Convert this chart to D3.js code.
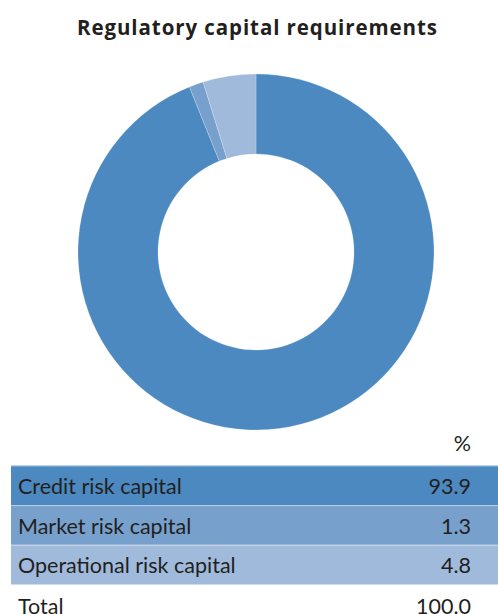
<!DOCTYPE html>
<html>
<head>
<meta charset="utf-8">
<script src="https://cdn.jsdelivr.net/npm/d3@7"></script>
<style>
  html, body { margin: 0; padding: 0; background: #fff; }
  svg { display: block; font-family: Lato, "Open Sans", sans-serif; }
</style>
</head>
<body>
<svg id="chart" width="498" height="614"></svg>
<script>
// Share of regulatory capital by risk type (%)
const categories = ["Credit risk capital", "Market risk capital", "Operational risk capital"];
const shares = [93.9, 1.3, 4.8];
const totalLabel = "Total";
const totalValue = 100.0;
const colors = ["#4b89c0", "#77a0cc", "#a0badc"];

const svg = d3.select("#chart");
const W = 498;
const ink = "#231f20";

const title = svg.append("text")
  .attr("x", 257).attr("y", 35)
  .attr("text-anchor", "middle")
  .attr("font-family", "'Open Sans', Lato, sans-serif")
  .attr("font-weight", "bold")
  .attr("font-size", 20.5)
  .attr("fill", ink)
  .text("Regulatory capital requirements");
// keep the heading at its set width
const tw = title.node().getComputedTextLength();
if (Math.abs(tw - 360) > 4) title.attr("textLength", 360).attr("lengthAdjust", "spacing");

// Donut
const cx = 256, cy = 252, rOuter = 178, rInner = 98;
const pie = d3.pie().sort(null).value(d => d);
const arc = d3.arc().innerRadius(rInner).outerRadius(rOuter);
const color = d3.scaleOrdinal().domain(categories).range(colors);

svg.append("g")
  .attr("transform", `translate(${cx},${cy})`)
  .selectAll("path")
  .data(pie(shares))
  .join("path")
  .attr("d", arc)
  .attr("fill", (d, i) => color(categories[i]))
  .attr("stroke", "rgba(255,255,255,0.35)")
  .attr("stroke-width", 0.6);

// Table
const tableX = 11, labelX = 18, valueX = 471;
const fs = 21.5;
const rowY = d3.scaleBand().domain(categories).range([465.5, 584.5]).paddingInner(0);

svg.append("text")
  .attr("x", valueX).attr("y", 451)
  .attr("text-anchor", "end")
  .attr("font-size", fs)
  .attr("fill", ink)
  .text("%");

const rows = svg.append("g").selectAll("g")
  .data(categories)
  .join("g")
  .attr("transform", d => `translate(0,${rowY(d)})`);

rows.append("rect")
  .attr("x", tableX).attr("y", 0)
  .attr("width", W - tableX).attr("height", rowY.bandwidth())
  .attr("fill", d => color(d));

rows.append("line")
  .attr("x1", tableX).attr("x2", W)
  .attr("y1", 0.5).attr("y2", 0.5)
  .attr("stroke", "rgba(255,255,255,0.45)")
  .attr("stroke-width", 1);

rows.append("text")
  .attr("x", labelX).attr("y", 28.5)
  .attr("font-size", fs)
  .attr("fill", ink)
  .text(d => d);

rows.append("text")
  .attr("x", valueX).attr("y", 28.5)
  .attr("text-anchor", "end")
  .attr("font-size", fs)
  .attr("fill", ink)
  .text((d, i) => shares[i].toFixed(1));

svg.append("text")
  .attr("x", labelX).attr("y", 613.5)
  .attr("font-size", fs)
  .attr("fill", ink)
  .text(totalLabel);

svg.append("text")
  .attr("x", valueX).attr("y", 613.5)
  .attr("text-anchor", "end")
  .attr("font-size", fs)
  .attr("fill", ink)
  .text(totalValue.toFixed(1));
</script>
</body>
</html>
